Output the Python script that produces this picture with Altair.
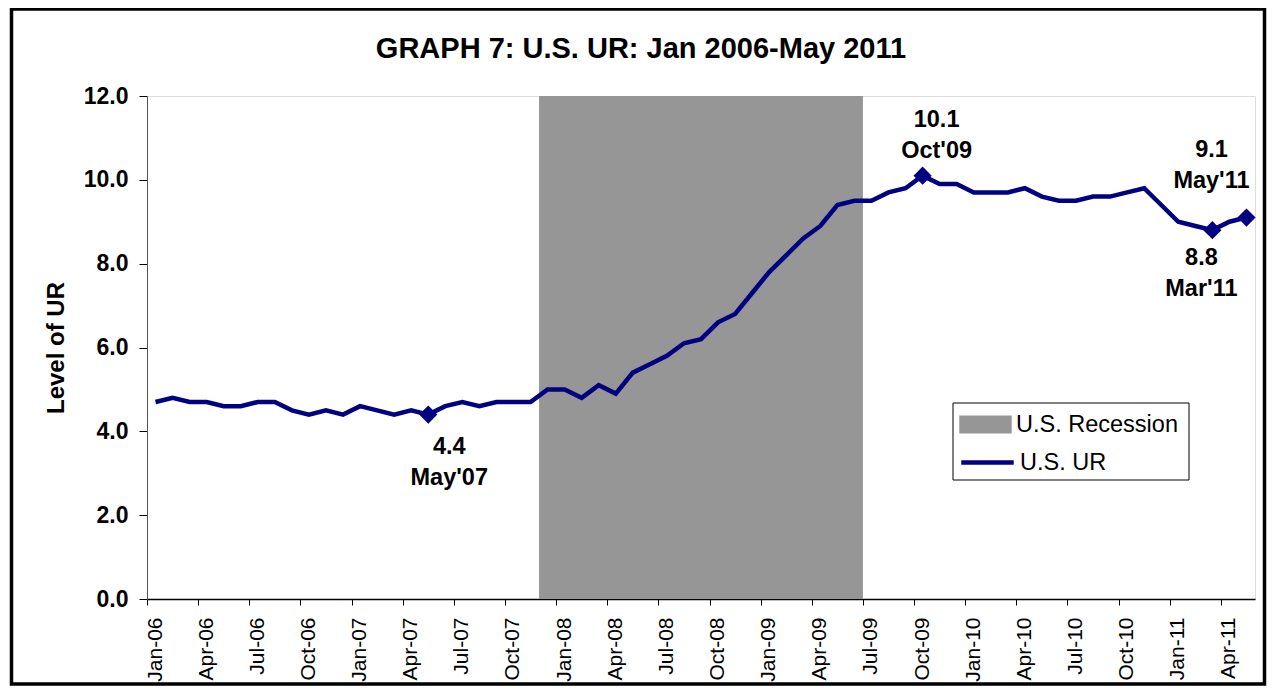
import json
import altair as alt
import pandas as pd

# ---------------- data ----------------
MONTH_NAMES = ["Jan", "Feb", "Mar", "Apr", "May", "Jun",
               "Jul", "Aug", "Sep", "Oct", "Nov", "Dec"]
YEARS = ["06", "07", "08", "09", "10", "11"]
MONTHS = [f"{m}-{y}" for y in YEARS for m in MONTH_NAMES][:65]  # Jan-06 .. May-11

UR = [
    4.7, 4.8, 4.7, 4.7, 4.6, 4.6, 4.7, 4.7, 4.5, 4.4, 4.5, 4.4,   # 2006
    4.6, 4.5, 4.4, 4.5, 4.4, 4.6, 4.7, 4.6, 4.7, 4.7, 4.7, 5.0,   # 2007
    5.0, 4.8, 5.1, 4.9, 5.4, 5.6, 5.8, 6.1, 6.2, 6.6, 6.8, 7.3,   # 2008
    7.8, 8.2, 8.6, 8.9, 9.4, 9.5, 9.5, 9.7, 9.8, 10.1, 9.9, 9.9,  # 2009
    9.7, 9.7, 9.7, 9.8, 9.6, 9.5, 9.5, 9.6, 9.6, 9.7, 9.8, 9.4,   # 2010
    9.0, 8.9, 8.8, 9.0, 9.1,                                      # 2011
]

TICK_LABELS = ["Jan-06", "Apr-06", "Jul-06", "Oct-06", "Jan-07", "Apr-07",
               "Jul-07", "Oct-07", "Jan-08", "Apr-08", "Jul-08", "Oct-08",
               "Jan-09", "Apr-09", "Jul-09", "Oct-09", "Jan-10", "Apr-10",
               "Jul-10", "Oct-10", "Jan-11", "Apr-11"]
Y_TICKS = [0, 2, 4, 6, 8, 10, 12]

REC_START = "Dec-07"
REC_END = "Jun-09"

ANNOT_MONTHS = ["May-07", "Oct-09", "Mar-11", "May-11"]
ANNOT_TEXT = ["4.4\nMay'07", "10.1\nOct'09", "8.8\nMar'11", "9.1\nMay'11"]

TITLE = "GRAPH 7: U.S. UR: Jan 2006-May 2011"
FONT = "Liberation Sans"
NAVY = "#000080"
GREY = "#969696"

W, H = 1108, 503

# ---------------- tables ----------------
df = pd.DataFrame({"idx": range(len(MONTHS)), "month": MONTHS, "ur": UR,
                   "series": "U.S. UR"})
rec = pd.DataFrame({
    "x0": [MONTHS.index(REC_START) - 0.5],
    "x1": [MONTHS.index(REC_END) + 0.5],
    "y0": [0], "y1": [12], "label": ["U.S. Recession"],
})
ann = pd.DataFrame({
    "idx": [MONTHS.index(m) for m in ANNOT_MONTHS],
    "ur": [UR[MONTHS.index(m)] for m in ANNOT_MONTHS],
    "text": ANNOT_TEXT,
})

tick_vals = [MONTHS.index(t) - 0.5 for t in TICK_LABELS]
label_expr = f"{json.dumps(TICK_LABELS)}[round((datum.value + 0.5) / 3)]"

x_scale = alt.Scale(domain=[-0.5, len(MONTHS) - 0.5], nice=False, zero=False)
y_scale = alt.Scale(domain=[0, 12], nice=False)

x_axis = alt.Axis(values=tick_vals, labelExpr=label_expr, title=None,
                  labelAngle=-90, labelFont=FONT, labelFontSize=21,
                  labelColor="black", labelPadding=12, labelOffset=8,
                  tickSize=6, tickColor="black", tickWidth=1,
                  domainColor="black", domainWidth=1.5, grid=False)
y_axis = alt.Axis(values=Y_TICKS, format=".1f", title="Level of UR",
                  labelFont=FONT, labelFontSize=23, labelFontWeight="bold",
                  labelColor="black", labelPadding=11,
                  titleFont=FONT, titleFontSize=24, titleFontWeight="bold",
                  titleColor="black", titlePadding=15,
                  tickSize=8, tickColor="black", tickWidth=1,
                  domainColor="#555555", domainWidth=1, grid=False)

X = alt.X("idx:Q", scale=x_scale, axis=x_axis)

recession = alt.Chart(rec).mark_rect(opacity=1).encode(
    x=alt.X("x0:Q", scale=x_scale, axis=x_axis),
    x2="x1:Q",
    y=alt.Y("y0:Q", scale=y_scale, axis=y_axis),
    y2="y1:Q",
    fill=alt.Fill("label:N", scale=alt.Scale(range=[GREY]),
                  legend=alt.Legend(title=None, orient="none",
                                    legendX=812, legendY=302, padding=0,
                                    labelFont=FONT, labelFontSize=23.5,
                                    labelColor="black", labelOffset=4,
                                    labelLimit=400,
                                    symbolType="M-1,-0.34H1V0.34H-1Z",
                                    symbolSize=2750, symbolStrokeWidth=0,
                                    symbolOpacity=1)),
)

line = alt.Chart(df).mark_line(strokeWidth=4.5).encode(
    x=X,
    y=alt.Y("ur:Q", scale=y_scale, axis=y_axis),
    stroke=alt.Stroke("series:N", scale=alt.Scale(range=[NAVY]),
                      legend=alt.Legend(title=None, orient="none",
                                        legendX=812, legendY=338, padding=0,
                                        labelFont=FONT, labelFontSize=23.5,
                                        labelColor="black", labelOffset=4,
                                        labelLimit=400,
                                        symbolType="stroke",
                                        symbolSize=2750,
                                        symbolStrokeWidth=4.5)),
)

diamonds = alt.Chart(ann).mark_point(shape="diamond", filled=True,
                                     size=330, opacity=1, color=NAVY).encode(
    x=alt.X("idx:Q", scale=x_scale), y=alt.Y("ur:Q", scale=y_scale))

# (dx, dy) of the first text line relative to the marked point
offsets = {"May-07": (21, 32), "Oct-09": (14, -56),
           "Mar-11": (-11, 28), "May-11": (-35, -68)}
texts = []
for m in ANNOT_MONTHS:
    dx, dy = offsets[m]
    texts.append(
        alt.Chart(ann[ann["idx"] == MONTHS.index(m)]).mark_text(
            font=FONT, fontSize=23.5, fontWeight="bold", color="black",
            align="center", baseline="middle", lineBreak="\n",
            lineHeight=31, dx=dx, dy=dy,
        ).encode(x=alt.X("idx:Q", scale=x_scale),
                 y=alt.Y("ur:Q", scale=y_scale), text="text:N")
    )

# legend frame and outer border (decoration)
deco = pd.DataFrame({"k": [0]})
legend_box = alt.Chart(deco).mark_rect(fill="white", stroke="black",
                                       strokeWidth=1).encode(
    x=alt.value(806), x2=alt.value(1042), y=alt.value(307), y2=alt.value(384))
outer = alt.Chart(deco).mark_rect(fill="transparent", stroke="black",
                                  strokeWidth=3.5).encode(
    x=alt.value(-135.5), x2=alt.value(1117.5), y=alt.value(-87),
    y2=alt.value(588))

chart = alt.layer(recession, line, legend_box, diamonds, *texts, outer).properties(
    width=W, height=H,
    title=alt.TitleParams(TITLE, font=FONT, fontSize=29, fontWeight="bold",
                          color="black", anchor="middle", dx=-60, dy=71,
                          offset=0, baseline="middle", frame="group"),
    autosize=alt.AutoSizeParams(type="none"),
    padding={"left": 139, "top": 88, "right": 12, "bottom": 87},
).resolve_scale(fill="independent", stroke="independent").configure_view(
    stroke="#868686", strokeWidth=3.5, fill="white"
).configure(background="white")

chart.save("out.html", embed_options={"renderer": "svg", "actions": False})
